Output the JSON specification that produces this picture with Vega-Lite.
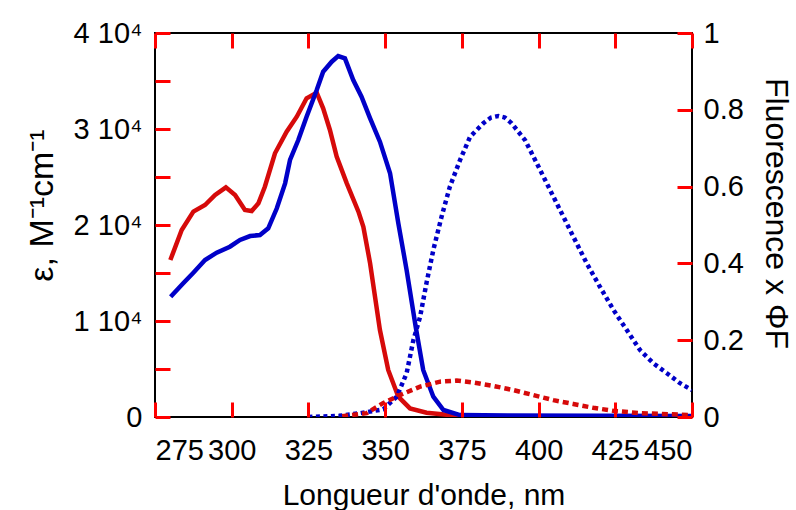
{
  "$schema": "https://vega.github.io/schema/vega-lite/v6.json",
  "width": 537,
  "height": 384,
  "autosize": {"type": "none"},
  "padding": {"left": 155, "top": 33, "right": 104, "bottom": 93},
  "config": {
    "view": {"stroke": "black", "strokeWidth": 2},
    "axis": {
      "labelFont": "Liberation Sans",
      "titleFont": "Liberation Sans",
      "labelFontSize": 29,
      "titleFontSize": 30,
      "titleFontWeight": "normal",
      "labelColor": "black",
      "titleColor": "black",
      "domain": false,
      "grid": false
    }
  },
  "datasets": {
    "curves": [
      {"wl": 280, "v": 16350, "s": "abs_red"},
      {"wl": 283.7, "v": 19480, "s": "abs_red"},
      {"wl": 287.5, "v": 21390, "s": "abs_red"},
      {"wl": 291.3, "v": 22080, "s": "abs_red"},
      {"wl": 294.6, "v": 23125, "s": "abs_red"},
      {"wl": 298.1, "v": 23925, "s": "abs_red"},
      {"wl": 301.1, "v": 23125, "s": "abs_red"},
      {"wl": 304.3, "v": 21560, "s": "abs_red"},
      {"wl": 306.5, "v": 21460, "s": "abs_red"},
      {"wl": 308.7, "v": 22260, "s": "abs_red"},
      {"wl": 310.8, "v": 23990, "s": "abs_red"},
      {"wl": 314.1, "v": 27470, "s": "abs_red"},
      {"wl": 317.9, "v": 29720, "s": "abs_red"},
      {"wl": 321.2, "v": 31280, "s": "abs_red"},
      {"wl": 324.4, "v": 33200, "s": "abs_red"},
      {"wl": 327.7, "v": 33780, "s": "abs_red"},
      {"wl": 329.8, "v": 32150, "s": "abs_red"},
      {"wl": 332.0, "v": 29900, "s": "abs_red"},
      {"wl": 334.2, "v": 27120, "s": "abs_red"},
      {"wl": 337.5, "v": 24340, "s": "abs_red"},
      {"wl": 341.3, "v": 21390, "s": "abs_red"},
      {"wl": 342.9, "v": 19820, "s": "abs_red"},
      {"wl": 345.1, "v": 16010, "s": "abs_red"},
      {"wl": 348.3, "v": 9060, "s": "abs_red"},
      {"wl": 351.0, "v": 4900, "s": "abs_red"},
      {"wl": 354.3, "v": 2115, "s": "abs_red"},
      {"wl": 358.1, "v": 900, "s": "abs_red"},
      {"wl": 363.5, "v": 450, "s": "abs_red"},
      {"wl": 371, "v": 200, "s": "abs_red"},
      {"wl": 380, "v": 100, "s": "abs_red"},
      {"wl": 400, "v": 60, "s": "abs_red"},
      {"wl": 425, "v": 40, "s": "abs_red"},
      {"wl": 450, "v": 30, "s": "abs_red"},
      {"wl": 280.1, "v": 12530, "s": "abs_blue"},
      {"wl": 284.2, "v": 13930, "s": "abs_blue"},
      {"wl": 287.5, "v": 15030, "s": "abs_blue"},
      {"wl": 291.3, "v": 16350, "s": "abs_blue"},
      {"wl": 295.1, "v": 17120, "s": "abs_blue"},
      {"wl": 299.4, "v": 17740, "s": "abs_blue"},
      {"wl": 302.7, "v": 18440, "s": "abs_blue"},
      {"wl": 306.0, "v": 18850, "s": "abs_blue"},
      {"wl": 309.2, "v": 18960, "s": "abs_blue"},
      {"wl": 311.9, "v": 19650, "s": "abs_blue"},
      {"wl": 314.7, "v": 21740, "s": "abs_blue"},
      {"wl": 317.4, "v": 24340, "s": "abs_blue"},
      {"wl": 319.0, "v": 26770, "s": "abs_blue"},
      {"wl": 321.7, "v": 28850, "s": "abs_blue"},
      {"wl": 324.4, "v": 31280, "s": "abs_blue"},
      {"wl": 327.7, "v": 34060, "s": "abs_blue"},
      {"wl": 329.8, "v": 35970, "s": "abs_blue"},
      {"wl": 332.6, "v": 37010, "s": "abs_blue"},
      {"wl": 334.7, "v": 37600, "s": "abs_blue"},
      {"wl": 336.9, "v": 37360, "s": "abs_blue"},
      {"wl": 339.6, "v": 35100, "s": "abs_blue"},
      {"wl": 342.3, "v": 33370, "s": "abs_blue"},
      {"wl": 345.1, "v": 31110, "s": "abs_blue"},
      {"wl": 348.3, "v": 28680, "s": "abs_blue"},
      {"wl": 351.6, "v": 25390, "s": "abs_blue"},
      {"wl": 354.3, "v": 20180, "s": "abs_blue"},
      {"wl": 357.0, "v": 15310, "s": "abs_blue"},
      {"wl": 360.0, "v": 9300, "s": "abs_blue"},
      {"wl": 362.4, "v": 4900, "s": "abs_blue"},
      {"wl": 365.7, "v": 2115, "s": "abs_blue"},
      {"wl": 369.0, "v": 730, "s": "abs_blue"},
      {"wl": 374.4, "v": 200, "s": "abs_blue"},
      {"wl": 390, "v": 150, "s": "abs_blue"},
      {"wl": 420, "v": 120, "s": "abs_blue"},
      {"wl": 450, "v": 100, "s": "abs_blue"},
      {"wl": 325, "v": 0.0, "s": "fl_blue"},
      {"wl": 335, "v": 0.003, "s": "fl_blue"},
      {"wl": 342, "v": 0.01, "s": "fl_blue"},
      {"wl": 349.4, "v": 0.02, "s": "fl_blue"},
      {"wl": 353.8, "v": 0.053, "s": "fl_blue"},
      {"wl": 357.0, "v": 0.114, "s": "fl_blue"},
      {"wl": 359.2, "v": 0.2, "s": "fl_blue"},
      {"wl": 361.4, "v": 0.261, "s": "fl_blue"},
      {"wl": 363.5, "v": 0.35, "s": "fl_blue"},
      {"wl": 365.7, "v": 0.435, "s": "fl_blue"},
      {"wl": 368.4, "v": 0.522, "s": "fl_blue"},
      {"wl": 371.1, "v": 0.6, "s": "fl_blue"},
      {"wl": 374.4, "v": 0.669, "s": "fl_blue"},
      {"wl": 377.7, "v": 0.73, "s": "fl_blue"},
      {"wl": 382.0, "v": 0.765, "s": "fl_blue"},
      {"wl": 384.5, "v": 0.78, "s": "fl_blue"},
      {"wl": 386.9, "v": 0.784, "s": "fl_blue"},
      {"wl": 389.0, "v": 0.78, "s": "fl_blue"},
      {"wl": 391.2, "v": 0.765, "s": "fl_blue"},
      {"wl": 395.6, "v": 0.721, "s": "fl_blue"},
      {"wl": 399.4, "v": 0.661, "s": "fl_blue"},
      {"wl": 403.2, "v": 0.6, "s": "fl_blue"},
      {"wl": 407.0, "v": 0.539, "s": "fl_blue"},
      {"wl": 411.3, "v": 0.47, "s": "fl_blue"},
      {"wl": 415.7, "v": 0.4, "s": "fl_blue"},
      {"wl": 420.0, "v": 0.339, "s": "fl_blue"},
      {"wl": 424.4, "v": 0.279, "s": "fl_blue"},
      {"wl": 428.7, "v": 0.227, "s": "fl_blue"},
      {"wl": 433.1, "v": 0.174, "s": "fl_blue"},
      {"wl": 437.4, "v": 0.14, "s": "fl_blue"},
      {"wl": 441.8, "v": 0.114, "s": "fl_blue"},
      {"wl": 446.1, "v": 0.088, "s": "fl_blue"},
      {"wl": 450, "v": 0.07, "s": "fl_blue"},
      {"wl": 336, "v": 0.002, "s": "fl_red"},
      {"wl": 344, "v": 0.01, "s": "fl_red"},
      {"wl": 349.3, "v": 0.036, "s": "fl_red"},
      {"wl": 354.8, "v": 0.057, "s": "fl_red"},
      {"wl": 361.4, "v": 0.079, "s": "fl_red"},
      {"wl": 367.9, "v": 0.092, "s": "fl_red"},
      {"wl": 373.3, "v": 0.095, "s": "fl_red"},
      {"wl": 378.7, "v": 0.09, "s": "fl_red"},
      {"wl": 385.2, "v": 0.081, "s": "fl_red"},
      {"wl": 391.8, "v": 0.07, "s": "fl_red"},
      {"wl": 398.3, "v": 0.057, "s": "fl_red"},
      {"wl": 404.8, "v": 0.044, "s": "fl_red"},
      {"wl": 411.3, "v": 0.034, "s": "fl_red"},
      {"wl": 417.8, "v": 0.024, "s": "fl_red"},
      {"wl": 424.4, "v": 0.016, "s": "fl_red"},
      {"wl": 433.1, "v": 0.01, "s": "fl_red"},
      {"wl": 450, "v": 0.005, "s": "fl_red"}
    ]
  },
  "data": {"name": "curves"},
  "resolve": {"scale": {"y": "independent"}, "axis": {"x": "independent"}},
  "layer": [
    {
      "transform": [{"filter": "indexof(datum.s, 'abs') == 0"}],
      "mark": {"type": "line", "strokeWidth": 4.5, "clip": true},
      "encoding": {
        "x": {
          "field": "wl", "type": "quantitative",
          "scale": {"domain": [275, 450], "nice": false},
          "axis": {
            "orient": "bottom",
            "values": [275, 300, 325, 350, 375, 400, 425, 450],
            "ticks": true, "tickSize": 15, "offset": -15, "tickColor": "red", "tickWidth": 3, "zindex": 2,
            "title": "Longueur d'onde, nm",
            "labelPadding": 19,
            "titlePadding": 15
          }
        },
        "y": {
          "field": "v", "type": "quantitative",
          "scale": {"domain": [0, 40000], "nice": false},
          "axis": {
            "orient": "left",
            "values": [0, 5000, 10000, 15000, 20000, 25000, 30000, 35000, 40000],
            "ticks": true, "tickSize": 15, "offset": -15, "tickColor": "red", "tickWidth": 3, "zindex": 2,
            "labelExpr": "datum.value == 0 ? '0' : (datum.value % 10000 == 0 ? (datum.value / 10000) + ' 10⁴' : '')",
            "labelPadding": 13,
            "title": "ε,  M⁻¹cm⁻¹",
            "titleFontSize": 34,
            "titleX": -111,
            "titleY": 172
          }
        },
        "color": {
          "field": "s", "type": "nominal",
          "scale": {"domain": ["abs_red", "abs_blue"], "range": ["#d60a0a", "#0000c8"]},
          "legend": null
        },
        "detail": {"field": "s"}
      }
    },
    {
      "transform": [{"filter": "indexof(datum.s, 'fl') == 0"}],
      "mark": {"type": "line", "strokeWidth": 4.5, "clip": true},
      "encoding": {
        "x": {
          "field": "wl", "type": "quantitative",
          "scale": {"domain": [275, 450], "nice": false},
          "axis": {
            "orient": "top",
            "values": [275, 300, 325, 350, 375, 400, 425, 450],
            "ticks": true, "tickSize": 15, "offset": -15, "tickColor": "red", "tickWidth": 3, "zindex": 2,
            "labels": false,
            "title": null
          }
        },
        "y": {
          "field": "v", "type": "quantitative",
          "scale": {"domain": [0, 1], "nice": false},
          "axis": {
            "orient": "right",
            "values": [0, 0.2, 0.4, 0.6, 0.8, 1],
            "ticks": true, "tickSize": 15, "offset": -15, "tickColor": "red", "tickWidth": 3, "zindex": 2,
            "labelExpr": "'' + datum.value",
            "labelPadding": 11,
            "title": "Fluorescence x ΦF",
            "titleFontSize": 32,
            "titleX": 81,
            "titleY": 180
          }
        },
        "color": {
          "field": "s", "type": "nominal",
          "scale": {"domain": ["fl_red", "fl_blue"], "range": ["#d60a0a", "#0000c8"]},
          "legend": null
        },
        "strokeDash": {
          "field": "s", "type": "nominal",
          "scale": {"domain": ["fl_red", "fl_blue"], "range": [[6, 4], [4, 3.5]]},
          "legend": null
        }
      }
    }
  ]
}
